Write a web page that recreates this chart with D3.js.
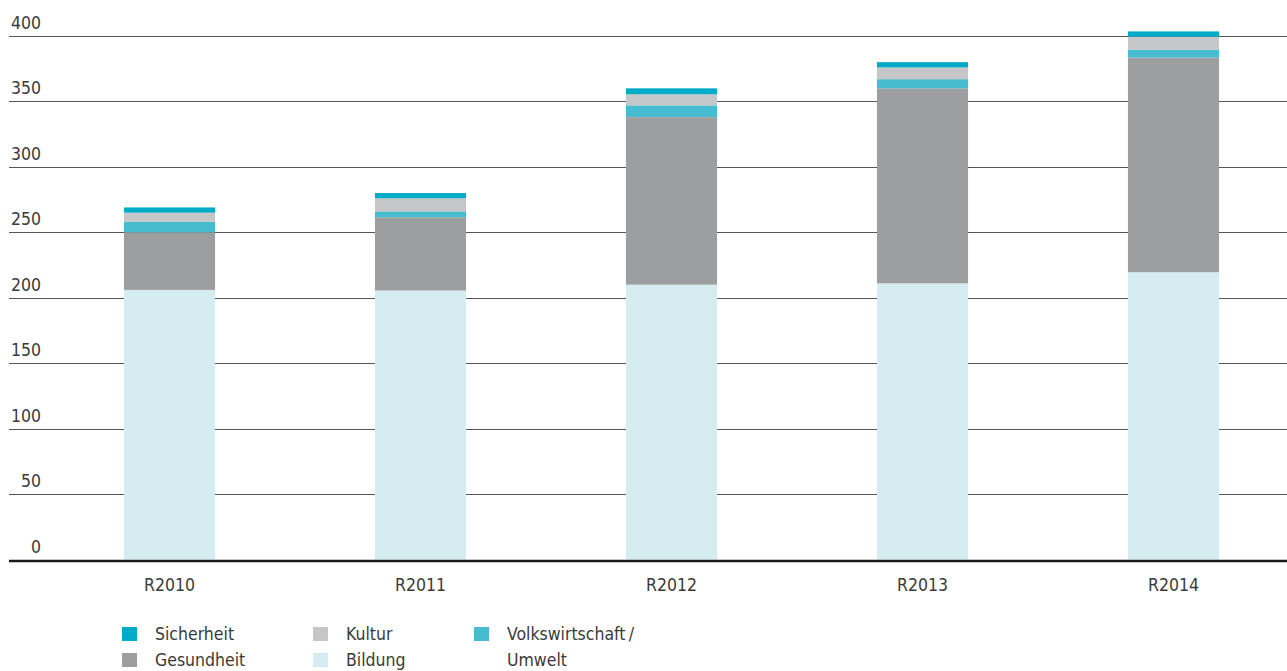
<!DOCTYPE html>
<html>
<head>
<meta charset="utf-8">
<script src="https://cdn.jsdelivr.net/npm/d3@7"></script>
<style>
  body { margin: 0; background: #fff; }
  svg { display: block; }
</style>
</head>
<body>
<div id="chart"></div>
<script>
// data
const years = ['R2010', 'R2011', 'R2012', 'R2013', 'R2014'];
const bildung = [206, 205.5, 210, 211, 219.5];
const gesundheit = [44, 56, 128, 149, 164];
const volkswirtschaft = [8, 4.5, 9, 7, 6];
const kultur = [7, 10, 8.5, 9, 10];
const sicherheit = [4, 4, 4.5, 4, 4];
const yTicks = [0, 50, 100, 150, 200, 250, 300, 350, 400];

const seriesKeys = ['bildung', 'gesundheit', 'volkswirtschaft', 'kultur', 'sicherheit'];
const colors = {
  bildung: '#d5ecf0',
  gesundheit: '#9d9ea0',
  volkswirtschaft: '#47bcd1',
  kultur: '#c5c6c8',
  sicherheit: '#00abc7'
};

// build rows for the stack
const rows = years.map((y, i) => ({
  year: y,
  bildung: bildung[i],
  gesundheit: gesundheit[i],
  volkswirtschaft: volkswirtschaft[i],
  kultur: kultur[i],
  sicherheit: sicherheit[i]
}));

const width = 1287;
const height = 671;
const font = '"DejaVu Sans Condensed", "Liberation Sans Narrow", sans-serif';
const textColor = '#3a3a3a';

const svg = d3.select('#chart').append('svg')
  .attr('width', width)
  .attr('height', height)
  .attr('font-family', font);

const x = d3.scaleBand()
  .domain(years)
  .range([44, 1299])
  .paddingInner(0.637)
  .paddingOuter(0.3185);

const y = d3.scaleLinear()
  .domain([0, 400])
  .range([559.5, 36]);

// gridlines + tick labels
const grid = svg.append('g');
grid.selectAll('line')
  .data(yTicks.filter(d => d > 0))
  .join('line')
    .attr('x1', 9)
    .attr('x2', width)
    .attr('y1', d => Math.round(y(d)) + 0.5)
    .attr('y2', d => Math.round(y(d)) + 0.5)
    .attr('stroke', '#555')
    .attr('stroke-width', 1);

grid.selectAll('text')
  .data(yTicks)
  .join('text')
    .attr('x', 41)
    .attr('y', d => y(d) - 7)
    .attr('text-anchor', 'end')
    .attr('font-size', 17.5)
    .attr('fill', textColor)
    .text(d => d);

// stacked bars
const stacked = d3.stack().keys(seriesKeys)(rows);

svg.append('g')
  .selectAll('g')
  .data(stacked)
  .join('g')
    .attr('fill', d => colors[d.key])
  .selectAll('rect')
  .data(d => d)
  .join('rect')
    .attr('x', d => x(d.data.year))
    .attr('width', x.bandwidth())
    .attr('y', d => y(d[1]))
    .attr('height', d => y(d[0]) - y(d[1]));

// baseline
svg.append('line')
  .attr('x1', 9)
  .attr('x2', width)
  .attr('y1', 561)
  .attr('y2', 561)
  .attr('stroke', '#1a1a1a')
  .attr('stroke-width', 2.5);

// x labels
svg.append('g')
  .selectAll('text')
  .data(years)
  .join('text')
    .attr('x', d => x(d) + x.bandwidth() / 2)
    .attr('y', 591)
    .attr('text-anchor', 'middle')
    .attr('font-size', 17.5)
    .attr('fill', textColor)
    .text(d => d);

// legend
const legendItems = [
  { key: 'sicherheit', label: ['Sicherheit'], col: 0, row: 0 },
  { key: 'gesundheit', label: ['Gesundheit'], col: 0, row: 1 },
  { key: 'kultur', label: ['Kultur'], col: 1, row: 0 },
  { key: 'bildung', label: ['Bildung'], col: 1, row: 1 },
  { key: 'volkswirtschaft', label: ['Volkswirtschaft\u2009/', 'Umwelt'], col: 2, row: 0 }
];
const colX = [122, 313, 474];
const rowY = [634, 660];

const legend = svg.append('g')
  .selectAll('g')
  .data(legendItems)
  .join('g')
    .attr('transform', d => `translate(${colX[d.col]}, ${rowY[d.row]})`);

legend.append('rect')
  .attr('x', 0)
  .attr('y', -7)
  .attr('width', 15)
  .attr('height', 14)
  .attr('fill', d => colors[d.key]);

legend.append('text')
  .attr('x', 33)
  .attr('y', 6)
  .attr('font-size', 17.5)
  .attr('fill', textColor)
  .selectAll('tspan')
  .data(d => d.label)
  .join('tspan')
    .attr('x', 33)
    .attr('dy', (_, i) => i === 0 ? 0 : 26)
    .text(d => d);
</script>
</body>
</html>
